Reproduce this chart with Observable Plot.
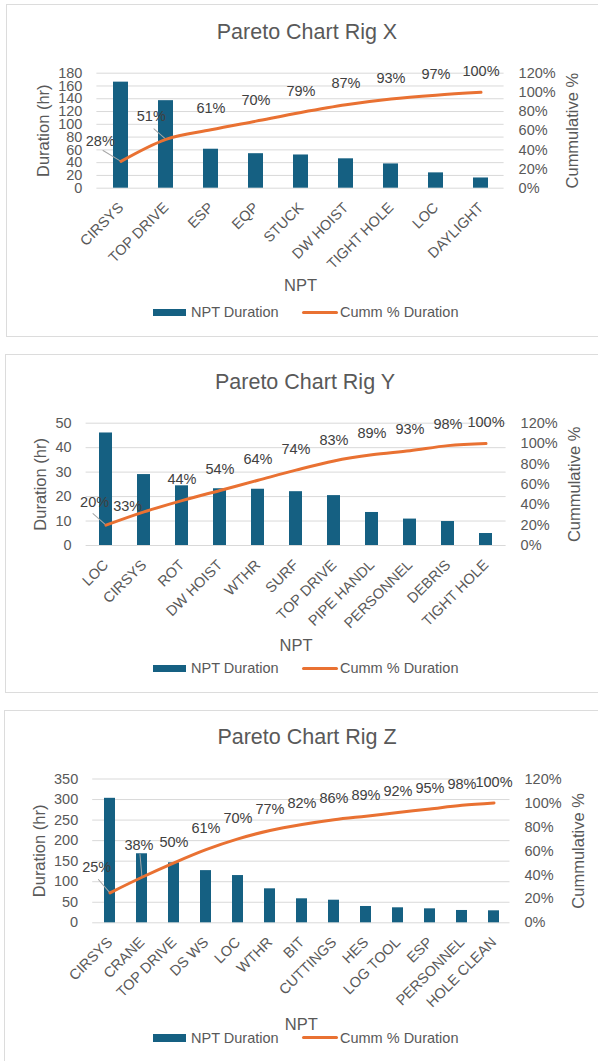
<!DOCTYPE html>
<html><head><meta charset="utf-8">
<script src="https://cdn.jsdelivr.net/npm/d3@7"></script>
<script src="https://cdn.jsdelivr.net/npm/@observablehq/plot@0.6"></script>
<style>
body{margin:0;background:#fff;}
#root{position:relative;width:598px;height:1061px;overflow:hidden;font-family:"Liberation Sans",Arial,sans-serif;color:#595959;}
.panel{position:absolute;border:1.5px solid #dcdcdc;box-sizing:border-box;}
.title{position:absolute;font-size:21.5px;line-height:21.5px;white-space:nowrap;transform:translateX(-50%);}
.chart{position:absolute;left:0;}
.lg{position:absolute;font-size:14.5px;line-height:14.5px;white-space:nowrap;}
</style></head><body><div id="root"></div>
<script>
// ---- data ----
const rigXCategories = ["CIRSYS","TOP DRIVE","ESP","EQP","STUCK","DW HOIST","TIGHT HOLE","LOC","DAYLIGHT"];
const rigXDuration   = [166, 137, 61, 54, 52, 46, 38, 24, 16];
const rigXCumPct     = [28, 51, 61, 70, 79, 87, 93, 97, 100];
const rigXTicks      = [0, 20, 40, 60, 80, 100, 120, 140, 160, 180];

const rigYCategories = ["LOC","CIRSYS","ROT","DW HOIST","WTHR","SURF","TOP DRIVE","PIPE HANDL","PERSONNEL","DEBRIS","TIGHT HOLE"];
const rigYDuration   = [46, 29, 24.4, 23.2, 23, 22, 20.4, 13.5, 10.8, 9.8, 4.9];
const rigYCumPct     = [20, 33, 44, 54, 64, 74, 83, 89, 93, 98, 100];
const rigYTicks      = [0, 10, 20, 30, 40, 50];

const rigZCategories = ["CIRSYS","CRANE","TOP DRIVE","DS WS","LOC","WTHR","BIT","CUTTINGS","HES","LOG TOOL","ESP","PERSONNEL","HOLE CLEAN"];
const rigZDuration   = [303, 168, 146, 127, 115, 82.7, 58.4, 55, 39.7, 36.5, 34, 30, 29.2];
const rigZCumPct     = [25, 38, 50, 61, 70, 77, 82, 86, 89, 92, 95, 98, 100];
const rigZTicks      = [0, 50, 100, 150, 200, 250, 300, 350];

const pctTicks = [0, 20, 40, 60, 80, 100, 120];
const titles = ["Pareto Chart Rig X", "Pareto Chart Rig Y", "Pareto Chart Rig Z"];
const seriesNames = ["NPT Duration", "Cumm % Duration"];
const axisTitles = {y: "Duration (hr)", y2: "Cummulative %", x: "NPT"};

// ---- layout (positions / styles) ----
const BLUE = "#156082", ORANGE = "#E97132", GRID = "#d9d9d9", TXT = "#595959", LBL = "#404040";
const FONT = "Liberation Sans, Arial, sans-serif";
const charts = [
  {title: titles[0], cats: rigXCategories, dur: rigXDuration, cum: rigXCumPct, ticks: rigXTicks,
   panel: {left: 6, top: 4, height: 333}, titleTop: 21.8, titleCx: 307,
   top: 0, height: 300, mt: 72.7, mb: 112.3, ml: 96.4, mr: 94.4,
   yTitleDx: -53.4, y2TitleDx: 68.4, xTitleDy: 98, legendCy: 312.3,
   shifts: [{i: 0, dx: -20.7, dy: -20.2, len: 21, ang: -58.8}, {i: 1, dx: -14.7, dy: -22.8, len: 16, ang: -48.8}]},
  {title: titles[1], cats: rigYCategories, dur: rigYDuration, cum: rigYCumPct, ticks: rigYTicks,
   panel: {left: 5, top: 354, height: 339}, titleTop: 371.8, titleCx: 305,
   top: 350, height: 310, mt: 72.7, mb: 115, ml: 85.6, mr: 92.4,
   yTitleDx: -45.6, y2TitleDx: 68.4, xTitleDy: 100, legendCy: 668.3,
   shifts: [{i: 0, dx: -11.4, dy: -22.9, len: 17.4, ang: -48.3}, {i: 1, dx: -16.3, dy: -5.4}]},
  {title: titles[2], cats: rigZCategories, dur: rigZDuration, cum: rigZCumPct, ticks: rigZTicks,
   panel: {left: 4, top: 710, height: 400}, titleTop: 726.8, titleCx: 307,
   top: 700, height: 340, mt: 78.5, mb: 117.7, ml: 92.2, mr: 88.5,
   yTitleDx: -53.2, y2TitleDx: 68.4, xTitleDy: 102, legendCy: 1037.7,
   shifts: [{i: 0, dx: -13.3, dy: -25.6, len: 17.7, ang: -40.9}, {i: 1, dx: -3, dy: -31.8, len: 23, ang: -5}]}
];

const root = document.getElementById("root");
function el(tag, cls, css, text) {
  const e = document.createElement(tag);
  if (cls) e.className = cls;
  Object.assign(e.style, css || {});
  if (text != null) e.textContent = text;
  root.appendChild(e);
  return e;
}

for (const c of charts) {
  el("div", "panel", {left: c.panel.left + "px", top: c.panel.top + "px", width: "640px", height: c.panel.height + "px"});
  el("div", "title", {left: c.titleCx + "px", top: c.titleTop + "px"}, c.title);

  const yMax = c.ticks[c.ticks.length - 1];
  const toY = (p) => p / 120 * yMax;
  const table = c.cats.map((cat, i) => ({cat, dur: c.dur[i], cum: c.cum[i], i}));
  const shiftIdx = new Set(c.shifts.map(s => s.i));

  const marks = [
    Plot.gridY(c.ticks, {stroke: GRID, strokeOpacity: 1, strokeWidth: 1}),
    Plot.barY(table, {x: "cat", y: "dur", fill: BLUE}),
  ];
  for (const s of c.shifts) {
    if (s.len) {
      marks.push(Plot.vector([table[s.i]], {
        x: "cat", y: d => toY(d.cum), length: s.len, rotate: s.ang, anchor: "start",
        stroke: "#a6a6a6", strokeWidth: 1,
        shape: {draw(ctx, l) { ctx.moveTo(0, 0); ctx.lineTo(0, -l); }}
      }));
    }
  }
  marks.push(
    Plot.line(table, {x: "cat", y: d => toY(d.cum), stroke: ORANGE, strokeWidth: 3, curve: "monotone-x", strokeLinecap: "round", strokeLinejoin: "round"}),
    Plot.text(table.filter(d => !shiftIdx.has(d.i)), {x: "cat", y: d => toY(d.cum), text: d => d.cum + "%", dy: -21, fill: LBL}),
  );
  for (const s of c.shifts) {
    marks.push(Plot.text([table[s.i]], {x: "cat", y: d => toY(d.cum), text: d => d.cum + "%", dx: s.dx, dy: s.dy, fill: LBL}));
  }
  marks.push(
    Plot.axisY(c.ticks, {anchor: "left", tickSize: 0, tickPadding: 14.5, label: null}),
    Plot.axisY(pctTicks.map(toY), {anchor: "right", tickSize: 0, tickPadding: 14.5, label: null,
      tickFormat: d => Math.round(d / yMax * 120) + "%"}),
    Plot.axisX({tickRotate: -45, tickSize: 0, tickPadding: 17, label: null, textAnchor: "end", lineAnchor: "middle"}),
    Plot.text([axisTitles.y], {frameAnchor: "left", dx: c.yTitleDx, rotate: -90, textAnchor: "middle", lineAnchor: "middle", fontSize: 16.5, text: d => d}),
    Plot.text([axisTitles.y2], {frameAnchor: "right", dx: c.y2TitleDx, rotate: -90, textAnchor: "middle", lineAnchor: "middle", fontSize: 16.5, text: d => d}),
    Plot.text([axisTitles.x], {frameAnchor: "bottom", dy: c.xTitleDy, textAnchor: "middle", lineAnchor: "middle", fontSize: 16.5, text: d => d})
  );

  const svg = Plot.plot({
    width: 598, height: c.height,
    marginTop: c.mt, marginBottom: c.mb, marginLeft: c.ml, marginRight: c.mr,
    x: {domain: c.cats, paddingInner: 2 / 3, paddingOuter: 1 / 3},
    y: {domain: [0, yMax]},
    style: {fontFamily: FONT, fontSize: "14.5px", color: TXT, background: "transparent", overflow: "visible"},
    marks
  });
  svg.classList.add("chart");
  svg.style.position = "absolute";
  svg.style.top = c.top + "px";
  svg.style.left = "0px";
  root.appendChild(svg);

  // legend
  const cy = c.legendCy;
  el("div", null, {position: "absolute", left: "153.3px", top: (cy - 3.7) + "px", width: "33px", height: "7.5px", background: BLUE});
  el("div", "lg", {left: "191px", top: (cy - 7.1) + "px"}, seriesNames[0]);
  el("div", null, {position: "absolute", left: "301.7px", top: (cy - 1.5) + "px", width: "36.6px", height: "3px", background: ORANGE, borderRadius: "1.5px"});
  el("div", "lg", {left: "340px", top: (cy - 7.1) + "px"}, seriesNames[1]);
}
</script>
</body></html>
